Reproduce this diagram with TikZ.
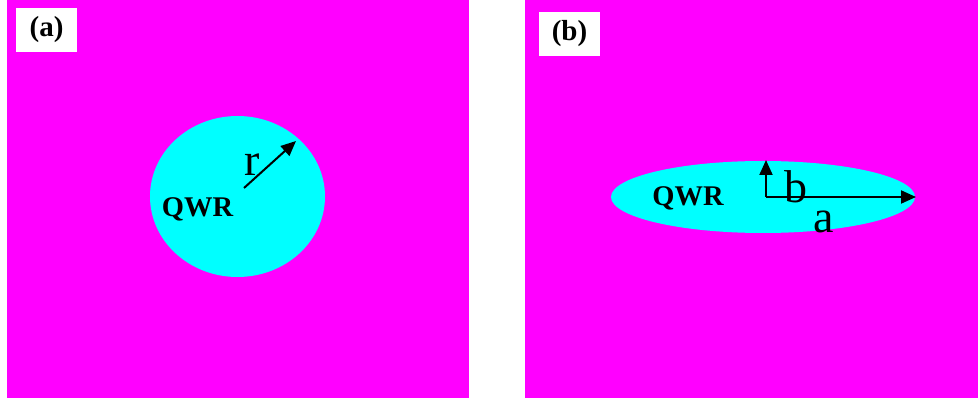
\documentclass[tikz,border=0pt]{standalone}
\usepackage{fontspec}
\setmainfont{Liberation Serif}
\usetikzlibrary{shapes.geometric,arrows.meta}
\definecolor{bgmag}{RGB}{255,0,255}
\definecolor{wirecyan}{RGB}{0,255,255}
\tikzset{
  panel/.style={fill=bgmag, draw=none},
  tag/.style={fill=white, inner sep=0pt, minimum width=61pt, minimum height=44pt,
              font=\fontsize{29}{29}\selectfont\bfseries},
  wire/.style={ellipse, fill=wirecyan, draw=none, inner sep=0pt},
  wirename/.style={font=\fontsize{28.5}{28.5}\selectfont\bfseries, inner sep=0pt},
  dimtext/.style={font=\fontsize{46}{46}\selectfont, inner sep=0pt},
  dimarrow/.style={line width=2pt, -{Triangle[length=15pt,width=13pt]}}
}
\begin{document}
\begin{tikzpicture}[x=1pt,y=-1pt]
  \useasboundingbox (0,0) rectangle (978,398);
  % two background panels
  \fill[panel] (7,0) rectangle (469,398);
  \fill[panel] (525,0) rectangle (978,398);
  % panel tags
  \node[tag] (taga) at (46.5,30) {(a)};
  \node[tag] (tagb) at (569.5,34) {(b)};
  % (a) circular wire
  \node[wire, minimum width=175pt, minimum height=161pt] (wa) at (237.5,196.5) {};
  \node[wirename] (qa) at (197.5,209) {QWR};
  \coordinate (ra) at (244,188);
  \coordinate (rb) at (296,141);
  \draw[dimarrow] (ra) -- (rb);
  \node[dimtext] (lr) at (252,164.5) {r};
  % (b) elliptical wire
  \node[wire, minimum width=304pt, minimum height=72pt] (wb) at (763,197) {};
  \node[wirename] (qb) at (688,198.5) {QWR};
  \coordinate (o) at (766,197);
  \coordinate (btip) at (766,160);
  \coordinate (atip) at (916,197);
  \draw[dimarrow] (o) -- (btip);
  \draw[dimarrow] (o) -- (atip);
  \node[dimtext] (lb) at (796,187) {b};
  \node[dimtext] (la) at (824,221.5) {a};
\end{tikzpicture}
\end{document}
